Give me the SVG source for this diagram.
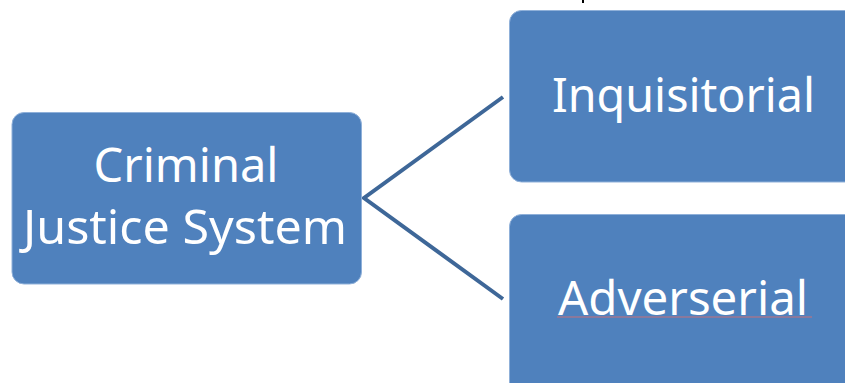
<svg xmlns="http://www.w3.org/2000/svg" width="845" height="383" viewBox="0 0 845 383">
<style>
.box{fill:#4f81bd;stroke:#8fb0d9;stroke-width:1}
.lbl{font-family:"Noto Sans","Open Sans",sans-serif;font-size:48px;fill:#ffffff;text-anchor:middle}
.conn{stroke:#3e6798;stroke-width:4;fill:none;stroke-linejoin:miter}
</style>
<rect width="845" height="383" fill="#ffffff"/>
<rect x="582" y="0" width="2" height="3" fill="#000000"/>
<g id="connectors">
<path class="conn" d="M503,97 L364,198 L503,299"/>
</g>
<g id="node-cjs">
<rect class="box" x="12" y="112.5" width="349.5" height="171.5" rx="12" ry="12"/>
<text class="lbl" x="186" y="182" textLength="185" lengthAdjust="spacingAndGlyphs">Criminal</text>
<text class="lbl" x="185" y="244" textLength="324" lengthAdjust="spacingAndGlyphs">Justice System</text>
</g>
<g id="node-inquisitorial">
<rect class="box" x="509.5" y="10.5" width="360" height="171.5" rx="12" ry="12"/>
<text class="lbl" x="683.5" y="112" textLength="263" lengthAdjust="spacingAndGlyphs">Inquisitorial</text>
</g>
<g id="node-adverserial">
<rect class="box" x="509.5" y="214.5" width="360" height="200" rx="12" ry="12"/>
<text class="lbl" x="683" y="315" textLength="250" lengthAdjust="spacingAndGlyphs">Adverserial</text>
<path d="M557,317 L812,317" stroke="#c8707a" stroke-width="1" fill="none"/>
</g>
</svg>
